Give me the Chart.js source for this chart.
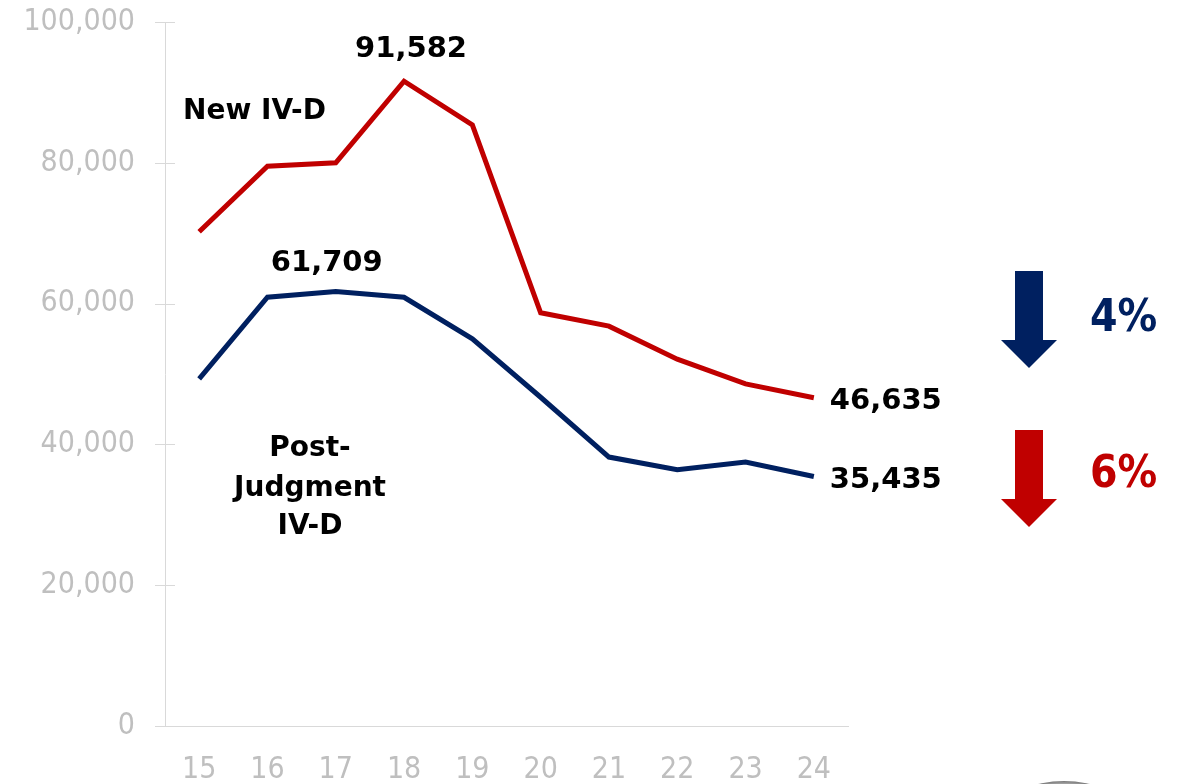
<!DOCTYPE html>
<html>
<head>
<meta charset="utf-8">
<script src="https://cdn.jsdelivr.net/npm/chart.js@4.4.1/dist/chart.umd.min.js"></script>
<style>
html,body{margin:0;padding:0;background:#fff;}
#wrap{width:1183px;height:784px;position:relative;}
</style>
</head>
<body>
<div id="wrap"><canvas id="c" width="1183" height="784"></canvas></div>
<script>
const years = ['15','16','17','18','19','20','21','22','23','24'];
const newIVD = [70200, 79500, 80000, 91582, 85400, 58700, 56800, 52100, 48600, 46635];
const postJudgment = [49300, 60900, 61709, 60900, 55000, 46700, 38200, 36400, 37500, 35435];
const yTicks = [0, 20000, 40000, 60000, 80000, 100000];
const pctNew = '4%';
const pctPost = '6%';

const RED = '#C00000';
const BLUE = '#002060';
const GRAY = '#BFBFBF';
const AXIS = '#D9D9D9';
const TICKFONT = '"DejaVu Sans Condensed", "DejaVu Sans", sans-serif';
const BOLDFONT = '"DejaVu Sans", Verdana, sans-serif';

function fmt(v){ return v.toLocaleString('en-US'); }

const annot = {
  id: 'annot',
  afterDraw(chart){
    const ctx = chart.ctx;
    const xs = chart.scales.x, ys = chart.scales.y;
    const ca = chart.chartArea;
    ctx.save();
    // y tick marks crossing the axis
    ctx.strokeStyle = AXIS; ctx.lineWidth = 1;
    yTicks.forEach(v => {
      const y = Math.round(ys.getPixelForValue(v)) + 0.5;
      ctx.beginPath(); ctx.moveTo(ca.left - 10, y); ctx.lineTo(ca.left + 10, y); ctx.stroke();
    });
    // value labels
    ctx.fillStyle = '#000';
    ctx.font = 'bold 29px ' + BOLDFONT;
    ctx.textBaseline = 'middle';
    ctx.textAlign = 'center';
    const iMaxR = newIVD.indexOf(Math.max(...newIVD));
    ctx.fillText(fmt(newIVD[iMaxR]), xs.getPixelForValue(iMaxR) + 7, ys.getPixelForValue(newIVD[iMaxR]) - 32);
    const iMaxB = postJudgment.indexOf(Math.max(...postJudgment));
    ctx.fillText(fmt(postJudgment[iMaxB]), xs.getPixelForValue(iMaxB) - 9, ys.getPixelForValue(postJudgment[iMaxB]) - 28);
    const last = years.length - 1;
    ctx.textAlign = 'left';
    ctx.fillText(fmt(newIVD[last]), xs.getPixelForValue(last) + 16, ys.getPixelForValue(newIVD[last]) + 4);
    ctx.fillText(fmt(postJudgment[last]), xs.getPixelForValue(last) + 16, ys.getPixelForValue(postJudgment[last]) + 4);
    // series names
    ctx.font = 'bold 28px ' + BOLDFONT;
    ctx.fillText('New IV-D', ca.left + 18, ys.getPixelForValue(87200));
    ctx.textAlign = 'center';
    const cx = ca.left + 145;
    ctx.fillText('Post-', cx, ys.getPixelForValue(39400));
    ctx.fillText('Judgment', cx, ys.getPixelForValue(33700));
    ctx.fillText('IV-D', cx, ys.getPixelForValue(28300));
    // arrows
    function arrow(top, color){
      const sx = ca.right + 167, sw = 28, hx = ca.right + 153, hw = 56;
      ctx.fillStyle = color;
      ctx.fillRect(sx, top, sw, 70);
      ctx.beginPath();
      ctx.moveTo(hx, top + 69); ctx.lineTo(hx + hw, top + 69); ctx.lineTo(hx + hw/2, top + 97); ctx.closePath();
      ctx.fill();
    }
    arrow(271, BLUE);
    arrow(430, RED);
    ctx.font = 'bold 44px "DejaVu Sans Condensed", "DejaVu Sans", sans-serif';
    ctx.textAlign = 'left';
    ctx.fillStyle = BLUE; ctx.fillText(pctNew, ca.right + 242, 320);
    ctx.fillStyle = RED; ctx.fillText(pctPost, ca.right + 242, 476);
    // partial grey circle at bottom right
    const g = ctx.createRadialGradient(1064, 895, 100, 1064, 895, 114);
    g.addColorStop(0, '#ffffff'); g.addColorStop(0.7, '#bbbbbb'); g.addColorStop(1, '#777777');
    ctx.fillStyle = g;
    ctx.beginPath(); ctx.arc(1064, 895, 114, 0, Math.PI * 2); ctx.fill();
    ctx.restore();
  }
};

new Chart(document.getElementById('c'), {
  type: 'line',
  data: {
    labels: years,
    datasets: [
      { label: 'New IV-D', data: newIVD, borderColor: RED, borderWidth: 5, pointRadius: 0, tension: 0, fill: false },
      { label: 'Post-Judgment IV-D', data: postJudgment, borderColor: BLUE, borderWidth: 5, pointRadius: 0, tension: 0, fill: false }
    ]
  },
  options: {
    responsive: false,
    animation: false,
    layout: { padding: { top: 22, right: 335, bottom: 0, left: 0 } },
    plugins: { legend: { display: false }, tooltip: { enabled: false } },
    scales: {
      x: {
        offset: true,
        grid: { display: false, drawTicks: false },
        border: { display: true, color: AXIS, width: 1 },
        ticks: { color: GRAY, font: { family: TICKFONT, size: 30 }, padding: 26, maxRotation: 0 },
        afterFit(s){ s.height = 58; }
      },
      y: {
        min: 0, max: 100000,
        afterBuildTicks(s){ s.ticks = yTicks.map(v => ({ value: v })); },
        grid: { display: false, drawTicks: false },
        border: { display: true, color: AXIS, width: 1 },
        ticks: { color: GRAY, font: { family: TICKFONT, size: 30 }, padding: 30, callback: v => fmt(v) },
        afterFit(s){ s.width = 165; s.paddingTop = 0; s.paddingBottom = 0; }
      }
    }
  },
  plugins: [annot]
});
</script>
</body>
</html>
